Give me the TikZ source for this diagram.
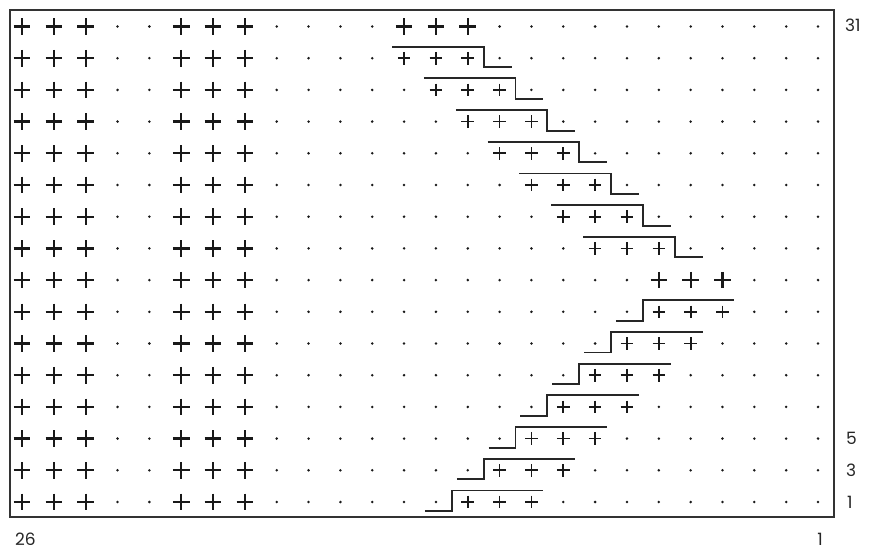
\documentclass[tikz,border=0pt]{standalone}
\usepackage{fontspec}
\setmainfont{Poppins}
\usetikzlibrary{calc}
\begin{document}
\begin{tikzpicture}[x=1pt,y=-1pt,
  bigplus/.style={line width=2.3pt,draw=black!90},
  smallplus/.style={line width=1.7pt,draw=black!90},
  gdot/.style={fill=black!90},
  stair/.style={line width=1.9pt,draw=black!85,line cap=butt},
  frame/.style={line width=2pt,draw=black!80},
  lbl/.style={font=\fontsize{17}{17}\selectfont,inner sep=0pt,text=black!85}]
\useasboundingbox (0,0) rectangle (869,551);
% grid coordinates
\foreach \r in {0,...,15}{
  \foreach \c in {0,...,25}{
    \coordinate (p-\r-\c) at ({22+31.84*\c},{26.5+31.7*\r});
  }
}
% frame
\coordinate (f-nw) at (10,10);
\coordinate (f-se) at (834,517);
\draw[frame] (f-nw) rectangle (f-se);
% marks
\foreach \r in {0,...,15}{
  \foreach \c in {0,...,25}{
    \pgfmathtruncatemacro\isbig{(\c<3)||((\c>4)&&(\c<8))||((\r==0)&&(\c>11)&&(\c<15))||((\r==8)&&(\c>19)&&(\c<23))}
    \pgfmathtruncatemacro\issmall{((\r>0)&&(\r<8)&&(\c>10+\r)&&(\c<14+\r))||((\r>8)&&(\c>28-\r)&&(\c<32-\r))}
    \ifnum\isbig=1
      \draw[bigplus] ($(p-\r-\c)+(-8.3,0)$) -- ++(16.6,0) ($(p-\r-\c)+(0,-8.3)$) -- ++(0,16.6);
    \else\ifnum\issmall=1
      \draw[smallplus] ($(p-\r-\c)+(-6.3,0)$) -- ++(12.6,0) ($(p-\r-\c)+(0,-6.3)$) -- ++(0,12.6);
    \else
      \fill[gdot] (p-\r-\c) circle[radius=1.4pt];
    \fi\fi
  }
}
% upper staircases
\foreach \r in {1,...,7}{
  \pgfmathtruncatemacro\ca{11+\r}
  \pgfmathtruncatemacro\cd{14+\r}
  \draw[stair] ($(p-\r-\ca)+(-12,-11.5)$) -| ($(p-\r-\cd)+(-15.9,9)$) -- ($(p-\r-\cd)+(12,9)$);
}
% lower staircases
\foreach \r in {9,...,15}{
  \pgfmathtruncatemacro\cd{28-\r}
  \pgfmathtruncatemacro\cl{31-\r}
  \draw[stair] ($(p-\r-\cd)+(-11,9)$) -| ($(p-\r-\cd)+(15.9,-11.5)$) -- ($(p-\r-\cl)+(12,-11.5)$);
}
% labels
\node[lbl,anchor=west] (l31) at (845,25) {31};
\node[lbl,anchor=west] (l5) at (846,438) {5};
\node[lbl,anchor=west] (l3) at (846,470) {3};
\node[lbl,anchor=west] (l1) at (847,502) {1};
\node[lbl] (b26) at (25.5,539.5) {26};
\node[lbl] (b1) at (820,539.5) {1};
\end{tikzpicture}
\end{document}
